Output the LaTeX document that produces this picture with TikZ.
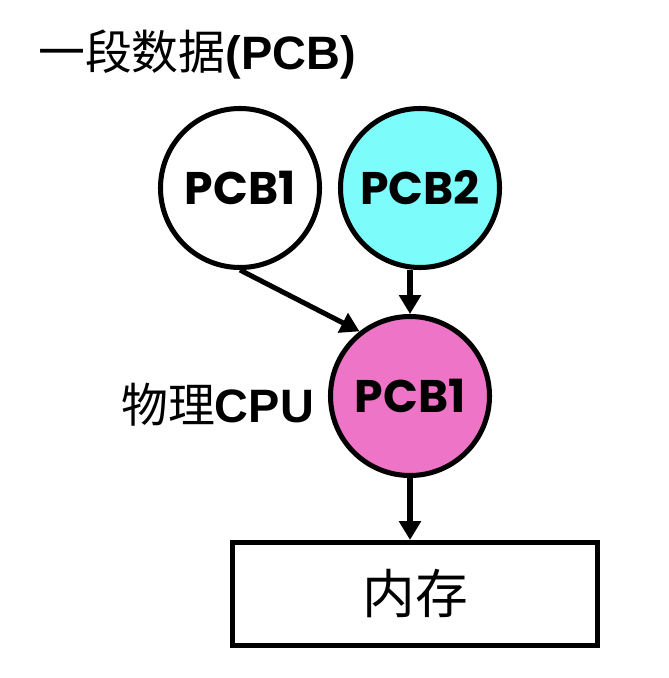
\documentclass[tikz,border=0pt]{standalone}
\usepackage{fontspec}
\setmainfont{Liberation Sans}
\newfontfamily\cjk{Noto Sans CJK SC}
\newfontfamily\geo{Poppins}
\usetikzlibrary{arrows.meta}
\definecolor{pcbcyan}{RGB}{125,252,252}
\definecolor{pcbpink}{RGB}{238,116,200}

\begin{document}
\begin{tikzpicture}[x=0.03cm, y=-0.03cm,
    pcb/.style={circle, draw, line width=4.3pt, minimum size=4.77cm, inner sep=0pt,
        font=\geo\bfseries\fontsize{39}{42}\selectfont},
    flow/.style={line width=4.3pt, -{Triangle[length=16pt, width=18pt]}},
    tag/.style={inner sep=0pt, anchor=base west, font=\fontsize{40}{44}\selectfont}]
    \useasboundingbox (0,0) rectangle (668,678);

    \node [tag] (title) at (38,70) {{\cjk 一段数据}\textbf{(PCB)}};
    \node [pcb, fill=white] (pcbA) at (240,188) {PCB1};
    \node [pcb, fill=pcbcyan] (pcbB) at (420,188) {PCB2};
    \node [pcb, fill=pcbpink] (cpu) at (410,396) {PCB1};
    \node [tag] (cpulabel) at (121,422) {{\cjk 物理}\textbf{CPU}};
    \node [draw, line width=4.3pt, minimum width=10.95cm, minimum height=3.09cm,
        font=\cjk\fontsize{45}{48}\selectfont] (mem) at (415,594) {内存};

    \draw [flow] (pcbA.south) -- (cpu.128) ;
    \draw [flow] (cpu.north |- pcbB.south) -- (cpu.north) ;
    \draw [flow] (cpu.south) -- (cpu.south |- mem.north) ;
\end{tikzpicture}
\end{document}
